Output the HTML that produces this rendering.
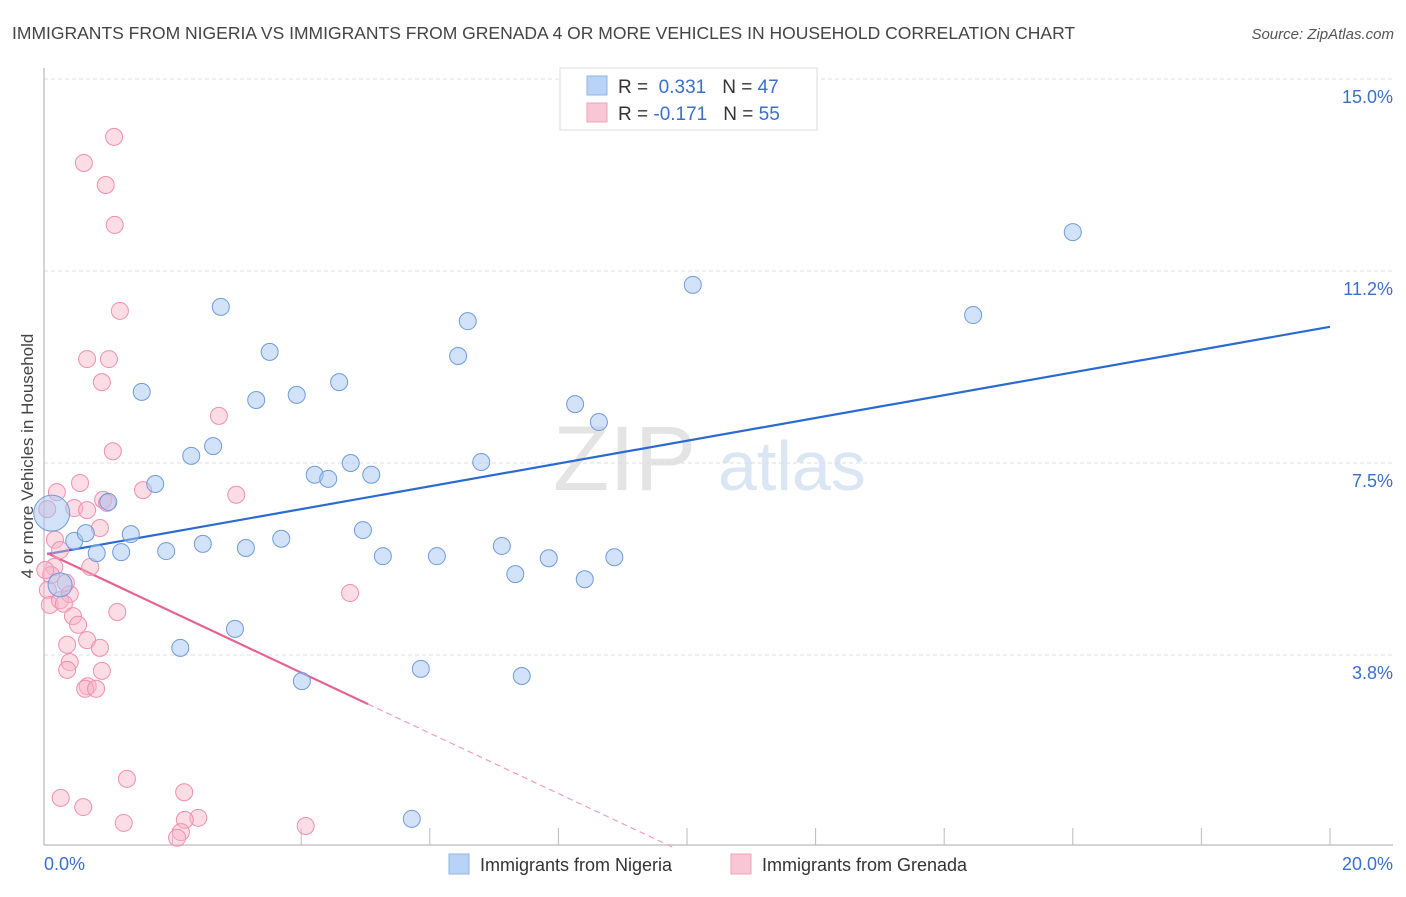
<!DOCTYPE html>
<html><head><meta charset="utf-8"><style>
body{margin:0;background:#fff;font-family:"Liberation Sans",sans-serif}
svg text{font-family:"Liberation Sans",sans-serif}
</style></head><body>
<svg id="chart" width="1406" height="892" xmlns="http://www.w3.org/2000/svg">
<text x="12" y="39" font-size="17.5" fill="#444">IMMIGRANTS FROM NIGERIA VS IMMIGRANTS FROM GRENADA 4 OR MORE VEHICLES IN HOUSEHOLD CORRELATION CHART</text>
<text x="1394" y="39" font-size="15" fill="#555" text-anchor="end" font-style="italic">Source: ZipAtlas.com</text>
<g>
<text x="553" y="490" font-size="92" fill="#e4e4e4" font-family="Liberation Serif">ZIP</text>
<text x="718" y="490" font-size="70" fill="#dbe6f5">atlas</text>
</g>
<g id="grid"></g>
<g id="axes"></g>
<g id="lines"></g>
<g id="pts"></g>
<text transform="translate(33,456) rotate(-90)" font-size="17" fill="#444" text-anchor="middle">4 or more Vehicles in Household</text>
<g>
<rect x="560" y="68" width="257" height="62" fill="#fff" stroke="#ddd"/>
<rect x="587" y="76" width="20" height="19" fill="#b8d3f5" stroke="#8fb4e6"/>
<rect x="587" y="103" width="20" height="19" fill="#f9c6d5" stroke="#f0a0b8"/>
<text x="618" y="93" font-size="19" fill="#333">R = <tspan fill="#3a6fcf">&#160;0.331</tspan><tspan dx="16">N = </tspan><tspan fill="#3a6fcf">47</tspan></text>
<text x="618" y="120" font-size="19" fill="#333">R = <tspan fill="#3a6fcf">-0.171</tspan><tspan dx="16">N = </tspan><tspan fill="#3a6fcf">55</tspan></text>
</g>
<g>
<rect x="449" y="854" width="20" height="20" fill="#b8d3f5" stroke="#8fb4e6"/>
<text x="480" y="871" font-size="18" fill="#333">Immigrants from Nigeria</text>
<rect x="731" y="854" width="20" height="20" fill="#f9c6d5" stroke="#f0a0b8"/>
<text x="762" y="871" font-size="18" fill="#333">Immigrants from Grenada</text>
</g>
</svg>
<script>
const yTicks=[3.75,7.5,11.25,15];
const yTickLabels=["3.8%","7.5%","11.2%","15.0%"];
const xTickLabels=["0.0%","20.0%"];
const nigeriaX=[0.12,0.25,0.47,0.65,0.82,1.00,1.20,1.35,1.52,1.73,1.90,2.12,2.29,2.47,2.63,2.75,2.97,3.14,3.30,3.51,3.69,3.93,4.01,4.21,4.42,4.59,4.77,4.96,5.09,5.27,5.72,5.86,6.11,6.44,6.59,6.80,7.12,7.33,7.43,7.85,8.26,8.41,8.63,8.87,10.09,14.45,16.00];
const nigeriaY=[6.52,5.12,5.98,6.13,5.74,6.74,5.76,6.11,8.89,7.09,5.78,3.89,7.64,5.92,7.83,10.55,4.26,5.84,8.73,9.67,6.02,8.83,3.24,7.27,7.19,9.08,7.50,6.19,7.27,5.68,0.55,3.48,5.68,9.59,10.27,7.52,5.88,5.33,3.34,5.64,8.65,5.23,8.30,5.66,10.98,10.39,12.01];
const grenadaX=[0.20,0.05,0.56,0.47,0.67,0.92,0.98,0.87,0.17,0.25,0.16,0.11,0.06,0.09,0.25,0.40,0.31,0.45,0.53,0.36,0.67,0.87,0.40,0.36,0.90,0.68,0.64,0.81,1.14,0.72,1.54,1.07,2.72,2.99,0.90,0.67,1.01,1.18,1.10,0.96,0.62,1.09,4.76,1.29,0.26,0.61,1.24,2.18,2.40,2.19,2.13,2.07,4.07,0.02,0.34];
const grenadaY=[6.93,6.60,7.11,6.62,6.58,6.78,6.72,6.23,6.00,5.80,5.47,5.31,5.02,4.73,4.82,4.94,4.75,4.51,4.34,3.95,4.04,3.89,3.61,3.46,3.44,3.14,3.09,3.09,4.59,5.47,6.97,7.73,8.42,6.88,9.08,9.53,9.53,10.47,12.15,12.93,13.36,13.87,4.96,1.33,0.96,0.78,0.47,1.07,0.57,0.53,0.29,0.18,0.41,5.41,5.16];
const nigeriaTrendX=[0.05,20];
const nigeriaTrendY=[5.72,10.16];
const grenadaTrendX=[0.05,5.04,9.77];
const grenadaTrendY=[5.74,2.79,0];

const X=v=>44+v*64.3, Y=v=>847-v*51.2;
const NS="http://www.w3.org/2000/svg";
function mk(tag,attrs,parent){const e=document.createElementNS(NS,tag);for(const k in attrs)e.setAttribute(k,attrs[k]);parent.appendChild(e);return e;}
const grid=document.getElementById('grid'),axes=document.getElementById('axes'),lines=document.getElementById('lines'),pts=document.getElementById('pts');
yTicks.forEach((t,i)=>{
 const l=mk('line',{x1:44,x2:1393,y1:Y(t),y2:Y(t),stroke:'#ddd','stroke-dasharray':'4,3'},grid);
 
 
 const tx=mk('text',{x:1393,y:Y(t)+24,'font-size':18,fill:'#3a6fcf','text-anchor':'end'},grid);
 tx.textContent=yTickLabels[i];
 
 
});
const la=mk('line',{x1:44,x2:44,y1:68,y2:845,stroke:'#aaa'},axes);


const ba=mk('line',{x1:44,x2:1393,y1:845,y2:845,stroke:'#aaa'},axes);


for(let i=1;i<=10;i++){
 const t=mk('line',{x1:X(i*2),x2:X(i*2),y1:828,y2:845,stroke:'#bbb'},axes);
 
 
}
const x0=mk('text',{x:44,y:870,'font-size':18,fill:'#3a6fcf'},axes);x0.textContent=xTickLabels[0];


const x1=mk('text',{x:1393,y:870,'font-size':18,fill:'#3a6fcf','text-anchor':'end'},axes);x1.textContent=xTickLabels[1];



grenadaX.forEach((v,i)=>{
 const c=mk('circle',{cx:X(v),cy:Y(grenadaY[i]),r:8.5,fill:'rgba(248,180,200,0.45)',stroke:'#f08fae','stroke-width':1},pts);
 
 
});
nigeriaX.forEach((v,i)=>{
 const r=i==0?18:(i==1?12:8.5);
 const c=mk('circle',{cx:X(v),cy:Y(nigeriaY[i]),r:r,fill:'rgba(165,198,242,0.5)',stroke:'#6f9bdc','stroke-width':1},pts);
 
 
});
const bl=mk('line',{x1:X(nigeriaTrendX[0]),y1:Y(nigeriaTrendY[0]),x2:X(nigeriaTrendX[1]),y2:Y(nigeriaTrendY[1]),stroke:'#2a6ad3','stroke-width':2.2},lines);


const pl=mk('line',{x1:X(grenadaTrendX[0]),y1:Y(grenadaTrendY[0]),x2:X(grenadaTrendX[1]),y2:Y(grenadaTrendY[1]),stroke:'#e8628f','stroke-width':2.2},lines);


const pd=mk('line',{x1:X(grenadaTrendX[1]),y1:Y(grenadaTrendY[1]),x2:X(grenadaTrendX[2]),y2:Y(grenadaTrendY[2]),stroke:'#f0a0b8','stroke-width':1.2,'stroke-dasharray':'6,4'},lines);


</script>
</body></html>
